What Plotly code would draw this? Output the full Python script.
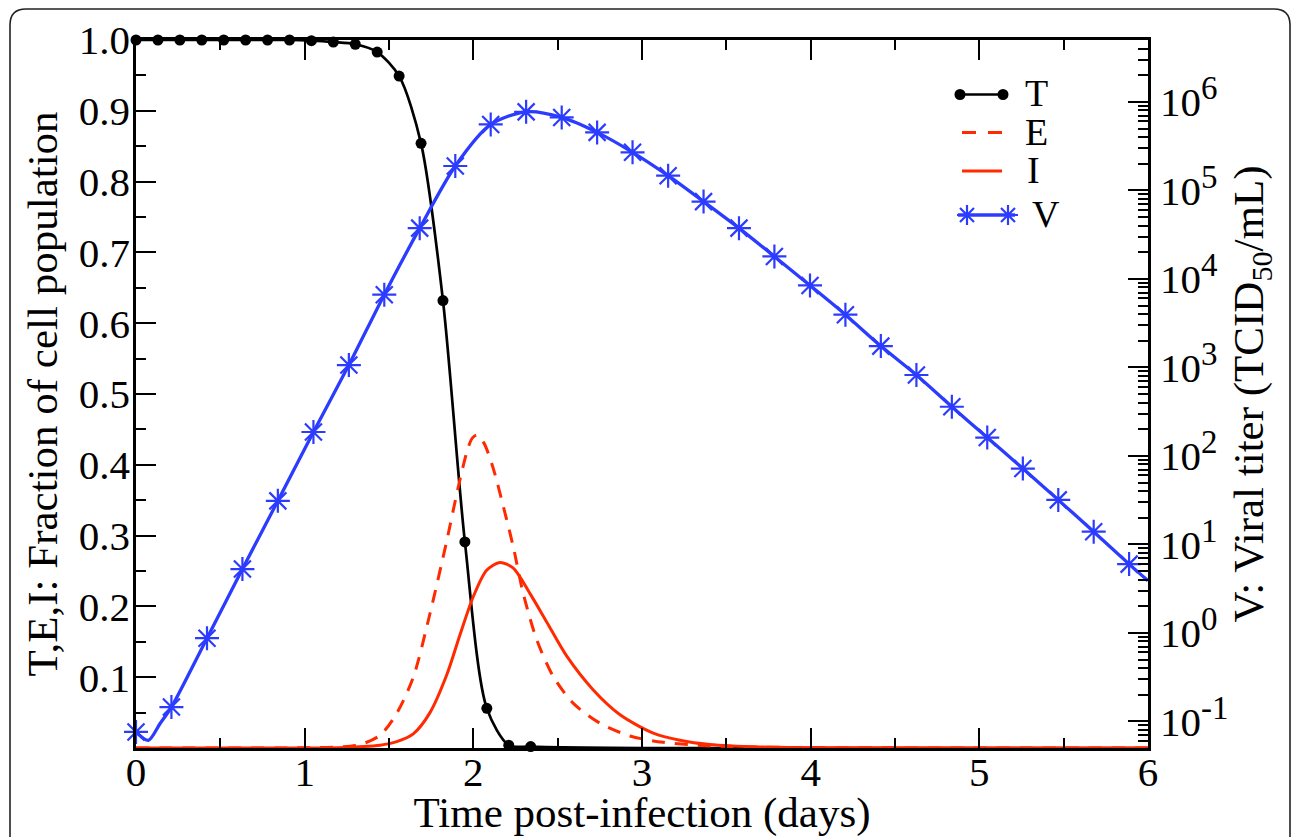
import math
import plotly.graph_objects as go

# ---------------- data ----------------
# T: fraction of target cells (marker points every 0.13 d)
t_T = [0.00, 0.13, 0.26, 0.39, 0.52, 0.65, 0.78, 0.91, 1.04, 1.17, 1.30, 1.43,
       1.56, 1.69, 1.82, 1.95, 2.08, 2.21, 2.34]
T_vals = [1.0, 1.0, 1.0, 1.0, 1.0, 1.0, 1.0, 1.0, 0.999, 0.997, 0.994, 0.983,
          0.949, 0.854, 0.632, 0.291, 0.056, 0.004, 0.002]
t_T_tail = [3.0, 4.0, 5.0, 6.0]
T_tail = [0.0, 0.0, 0.0, 0.0]

# E: eclipse-phase cells (dashed)
t_E = [0.0, 1.0, 1.2, 1.33, 1.447, 1.546, 1.644, 1.743, 1.84, 1.911, 1.970, 1.995,
       2.020, 2.045, 2.069, 2.118, 2.178, 2.237, 2.296, 2.376, 2.474, 2.593, 2.751,
       2.929, 3.126, 3.4, 3.8, 4.5, 6.0]
E_vals = [0.0, 0.0003, 0.0015, 0.005, 0.018, 0.049, 0.10, 0.19, 0.29, 0.369, 0.425,
          0.438, 0.442, 0.437, 0.428, 0.395, 0.341, 0.284, 0.218, 0.153, 0.101, 0.063,
          0.035, 0.017, 0.008, 0.003, 0.001, 0.0002, 0.0]

# I: infectious cells (solid red)
t_I = [0.0, 1.0, 1.2, 1.447, 1.546, 1.644, 1.743, 1.842, 1.921, 2.0, 2.079, 2.158,
       2.237, 2.336, 2.435, 2.553, 2.711, 2.87, 3.067, 3.225, 3.4, 3.7, 4.2, 6.0]
I_vals = [0.0, 0.0001, 0.0005, 0.004, 0.009, 0.020, 0.050, 0.103, 0.160, 0.214, 0.251,
          0.262, 0.254, 0.218, 0.178, 0.130, 0.082, 0.047, 0.021, 0.011, 0.005,
          0.0015, 0.0003, 0.0]

# V: viral titer (TCID50/mL), marker points
t_V = [0.000, 0.210, 0.421, 0.631, 0.841, 1.052, 1.262, 1.472, 1.682, 1.893, 2.103,
       2.313, 2.524, 2.734, 2.944, 3.155, 3.365, 3.575, 3.785, 3.996, 4.206, 4.416,
       4.627, 4.837, 5.047, 5.258, 5.468, 5.678, 5.888]
V_vals = [0.0759, 0.145, 0.871, 5.26, 31.0, 186, 1062, 6622, 37410, 188400, 555900,
          770900, 666800, 451900, 269200, 146600, 74650, 37410, 17910, 8433, 3936,
          1738, 820, 359, 161, 71.8, 31.8, 13.9, 5.98]
# extra curve points between markers (no marker drawn)
t_V_extra = [0.073, 0.142, 6.0]
V_extra = [0.061, 0.094, 3.88]

y_tickvals = [0.1, 0.2, 0.3, 0.4, 0.5, 0.6, 0.7, 0.8, 0.9, 1.0]
y_ticktext = ["0.1", "0.2", "0.3", "0.4", "0.5", "0.6", "0.7", "0.8", "0.9", "1.0"]
y2_tickvals = [0.1, 1, 10, 100, 1e3, 1e4, 1e5, 1e6]
y2_exponents = ["-1", "0", "1", "2", "3", "4", "5", "6"]
legend_names = ["T", "E", "I", "V"]

# ---------------- styling ----------------
FONT = "Liberation Serif, Times New Roman, serif"
BLUE = "#2b3cff"
RED = "#ff2a00"
TICK_FS = 41
TITLE_FS = 43
LEG_FS = 38
W, H = 1292, 837
ML, MR, MT, MB = 136, 144, 40, 89
PW, PH = W - ML - MR, H - MT - MB


def px(x):  # pixel -> paper x
    return (x - ML) / PW


def py(y):  # pixel -> paper y
    return (H - MB - y) / PH


def merge(tm, ym, tx, yx, msize):
    pts = [(a, b, msize) for a, b in zip(tm, ym)] + [(a, b, 0) for a, b in zip(tx, yx)]
    pts.sort(key=lambda p: p[0])
    return [p[0] for p in pts], [p[1] for p in pts], [p[2] for p in pts]


fig = go.Figure()

tx, ty, ts = merge(t_T, T_vals, t_T_tail, T_tail, 11)
fig.add_trace(go.Scatter(
    x=tx, y=ty, name="T", mode="lines+markers", cliponaxis=False, showlegend=False,
    line=dict(color="black", width=2.7, shape="spline", smoothing=0.8),
    marker=dict(symbol="circle", size=ts, color="black", opacity=1, line=dict(width=0)),
))
fig.add_trace(go.Scatter(
    x=t_E, y=E_vals, name="E", mode="lines", showlegend=False,
    line=dict(color=RED, width=3, dash="13px,10px", shape="spline", smoothing=0.8),
))
fig.add_trace(go.Scatter(
    x=t_I, y=I_vals, name="I", mode="lines", showlegend=False,
    line=dict(color=RED, width=3, shape="spline", smoothing=0.8),
))
vx, vy, vs = merge(t_V, V_vals, t_V_extra, V_extra, 20)
fig.add_trace(go.Scatter(
    x=vx, y=vy, name="V", mode="lines+markers", yaxis="y2", cliponaxis=False,
    showlegend=False,
    line=dict(color=BLUE, width=3.3, shape="spline", smoothing=0.8),
    marker=dict(symbol="asterisk-open", size=vs, color=BLUE, opacity=1,
                line=dict(width=2.2, color=BLUE)),
))

# ---------------- shapes: frame + legend samples ----------------
shapes = []
L, R, TOP, BOT = px(10), px(1290), py(9), py(860)
rx, ry = 16 / PW, 16 / PH
frame = (f"M{L},{BOT} L{L},{TOP-ry} Q{L},{TOP} {L+rx},{TOP} "
         f"L{R-rx},{TOP} Q{R},{TOP} {R},{TOP-ry} L{R},{BOT}")
shapes.append(dict(type="path", xref="paper", yref="paper", path=frame,
                   line=dict(color="#222222", width=1.6), layer="above"))

leg_y = [94.5, 132.5, 171, 215]
# T sample: line with dots at both ends
shapes.append(dict(type="line", xref="paper", yref="paper", x0=px(960), x1=px(1003),
                   y0=py(leg_y[0]), y1=py(leg_y[0]), line=dict(color="black", width=2.7)))
for cx in (960, 1003):
    shapes.append(dict(type="circle", xref="paper", yref="paper",
                       xsizemode="pixel", ysizemode="pixel",
                       xanchor=px(cx), yanchor=py(leg_y[0]),
                       x0=-5.5, x1=5.5, y0=-5.5, y1=5.5,
                       fillcolor="black", line=dict(color="black", width=0)))
# E sample: dashed red
shapes.append(dict(type="line", xref="paper", yref="paper", x0=px(962), x1=px(1002),
                   y0=py(leg_y[1]), y1=py(leg_y[1]),
                   line=dict(color=RED, width=3, dash="14px,12px")))
# I sample: solid red
shapes.append(dict(type="line", xref="paper", yref="paper", x0=px(962), x1=px(1002),
                   y0=py(leg_y[2]), y1=py(leg_y[2]), line=dict(color=RED, width=3)))
# V sample: blue line with asterisks at both ends
shapes.append(dict(type="line", xref="paper", yref="paper", x0=px(958), x1=px(1015),
                   y0=py(leg_y[3]), y1=py(leg_y[3]), line=dict(color=BLUE, width=3.3)))
r, d = 10, 7
ast = f"M{-r},0 L{r},0 M0,{-r} L0,{r} M{-d},{-d} L{d},{d} M{-d},{d} L{d},{-d}"
for cx in (967, 1008):
    shapes.append(dict(type="path", xref="paper", yref="paper",
                       xsizemode="pixel", ysizemode="pixel",
                       xanchor=px(cx), yanchor=py(leg_y[3]), path=ast,
                       line=dict(color=BLUE, width=2.2)))

annotations = []
leg_tx = [1023, 1023, 1025, 1030]
for name, xx, yy in zip(legend_names, leg_tx, leg_y):
    annotations.append(dict(xref="paper", yref="paper", x=px(xx), y=py(yy - 1),
                            xanchor="left", yanchor="middle", showarrow=False,
                            text=name, font=dict(size=LEG_FS, family=FONT, color="black")))

y2_ticktext = [f"10<sup><span style='font-size:33px'>{e}</span></sup>" for e in y2_exponents]

axis_common = dict(showgrid=False, zeroline=False, showline=True, linecolor="black",
                   linewidth=2.5, ticks="inside", ticklen=20, tickwidth=2,
                   tickcolor="black", automargin=False,
                   tickfont=dict(size=TICK_FS, color="black", family=FONT))
minor_common = dict(ticks="inside", ticklen=10, tickwidth=2, tickcolor="black", showgrid=False)

fig.update_layout(
    width=W, height=H, autosize=False,
    margin=dict(l=ML, r=MR, t=MT, b=MB, pad=0),
    paper_bgcolor="white", plot_bgcolor="white",
    font=dict(family=FONT, size=TICK_FS, color="black"),
    showlegend=False,
    shapes=shapes,
    annotations=annotations,
    xaxis=dict(range=[0, 6], tick0=0, dtick=1, mirror="ticks",
               minor=dict(tick0=0, dtick=0.5, **minor_common),
               ticklabelstandoff=-14,
               title=dict(text="Time post-infection (days)", standoff=6,
                          font=dict(size=TITLE_FS, family=FONT)),
               **axis_common),
    yaxis=dict(range=[0, 1], tickmode="array", tickvals=y_tickvals, ticktext=y_ticktext,
               minor=dict(tickmode="linear", tick0=0, dtick=0.05, **minor_common),
               ticklabelstandoff=-5,
               title=dict(text="T,E,I: Fraction of cell population", standoff=8,
                          font=dict(size=TITLE_FS, family=FONT)),
               **axis_common),
    yaxis2=dict(overlaying="y", side="right", type="log",
                range=[math.log10(0.05), math.log10(5e6)],
                tickmode="array", tickvals=y2_tickvals, ticktext=y2_ticktext,
                minor=dict(tickmode="linear", dtick="D1", **minor_common),
                ticklabelstandoff=1,
                title=dict(text="V: Viral titer (TCID<sub>50</sub>/mL)", standoff=6,
                           font=dict(size=TITLE_FS, family=FONT)),
                **axis_common),
)

fig.write_html("out.html",
               config={"displayModeBar": False},
               post_script="document.body.style.margin='0px';"
                           "document.body.style.overflow='hidden';")
